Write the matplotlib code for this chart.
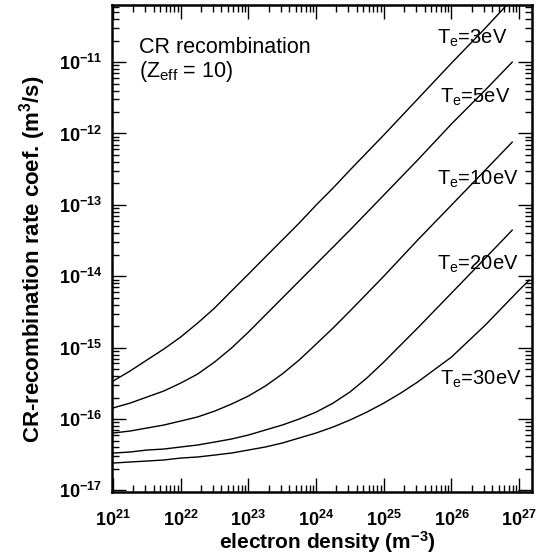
import numpy as np
import matplotlib
matplotlib.use("Agg")
import matplotlib.pyplot as plt
from matplotlib.ticker import LogLocator, FuncFormatter, NullFormatter

plt.rcParams['font.family'] = ['Liberation Sans', 'DejaVu Sans']
plt.rcParams['mathtext.fontset'] = 'custom'
plt.rcParams['mathtext.rm'] = 'Liberation Sans'
plt.rcParams['mathtext.it'] = 'Liberation Sans:italic'
plt.rcParams['mathtext.bf'] = 'Liberation Sans:bold'

# electron density (m^-3)
ne_low = [1e21, 1.78e21, 3.16e21, 5.62e21, 1e22, 1.78e22, 3.16e22, 5.62e22,
          1e23, 1.78e23, 3.16e23, 5.62e23, 1e24, 1.78e24, 3.16e24]
ne = ne_low + [1e25, 3.16e25, 1e26, 3.16e26, 7.9e26]
ne_20 = ne_low + [5.62e24, 1e25, 1.78e25, 3.16e25, 1e26, 3.16e26, 7.9e26]
ne_30 = ne_low + [5.62e24, 1e25, 1.78e25, 3.16e25, 1e26, 3.16e26, 1e27, 1.41e27]

# CR recombination rate coefficient (m^3/s)
rate_3eV = [3.40e-16, 4.70e-16, 6.70e-16, 9.55e-16, 1.41e-15, 2.21e-15, 3.58e-15,
            6.21e-15, 1.07e-14, 1.86e-14, 3.21e-14, 5.55e-14, 9.93e-14, 1.72e-13,
            3.07e-13, 9.51e-13, 3.03e-12, 9.68e-12, 2.99e-11, 7.62e-11]
rate_5eV = [1.43e-16, 1.67e-16, 2.03e-16, 2.47e-16, 3.19e-16, 4.27e-16, 6.28e-16,
            9.86e-16, 1.65e-15, 2.86e-15, 4.94e-15, 8.55e-15, 1.48e-14, 2.56e-14,
            4.43e-14, 1.37e-13, 4.24e-13, 1.36e-12, 4.06e-12, 1.0e-11]
rate_10eV = [6.37e-17, 6.79e-17, 7.48e-17, 8.24e-17, 9.38e-17, 1.07e-16, 1.29e-16,
             1.62e-16, 2.10e-16, 2.90e-16, 4.27e-16, 6.70e-16, 1.12e-15, 1.88e-15,
             3.25e-15, 1.00e-14, 3.21e-14, 9.93e-14, 3.07e-13, 7.57e-13]
rate_20eV = [3.34e-17, 3.45e-17, 3.68e-17, 3.80e-17, 4.06e-17, 4.33e-17, 4.76e-17,
             5.25e-17, 5.97e-17, 7.02e-17, 8.24e-17, 1.00e-16, 1.25e-16, 1.67e-16,
             2.39e-16, 3.75e-16, 6.28e-16, 1.09e-15, 1.88e-15, 5.81e-15, 1.79e-14,
             4.43e-14]
rate_30eV = [2.42e-17, 2.50e-17, 2.58e-17, 2.67e-17, 2.84e-17, 2.94e-17, 3.13e-17,
             3.34e-17, 3.68e-17, 4.06e-17, 4.61e-17, 5.42e-17, 6.37e-17, 7.73e-17,
             9.68e-17, 1.25e-16, 1.67e-16, 2.31e-16, 3.30e-16, 7.38e-16, 2.07e-15,
             6.40e-15, 8.83e-15]

labels = ["3eV", "5eV", "10eV", "20eV", "30eV"]
label_pos = [(0.774, 0.920), (0.781, 0.799), (0.774, 0.630), (0.774, 0.456), (0.781, 0.220)]

fig = plt.figure(figsize=(5.42, 5.60), dpi=100)
ax = fig.add_axes([112 / 542, 1 - 492 / 560, 420 / 542, 487 / 560])

for x, y in [(ne, rate_3eV), (ne, rate_5eV), (ne, rate_10eV), (ne_20, rate_20eV), (ne_30, rate_30eV)]:
    ax.plot(x, y, color="black", lw=1.0)

ax.set_xscale("log")
ax.set_yscale("log")
ax.set_xlim(10 ** 20.985, 10 ** 27.19)
ax.set_ylim(10 ** -17.022, 10 ** -10.2)

def fmt(v, pos):
    e = int(round(np.log10(v)))
    return r"$\mathbf{10^{%d}}$" % e

for axis in (ax.xaxis, ax.yaxis):
    axis.set_major_locator(LogLocator(base=10, numticks=20))
    axis.set_minor_locator(LogLocator(base=10, subs=np.arange(2, 10), numticks=20))
    axis.set_major_formatter(FuncFormatter(fmt))
    axis.set_minor_formatter(NullFormatter())

ax.tick_params(which="both", direction="in", top=True, right=True, width=1.0)
ax.tick_params(which="major", length=10, labelsize=13)
ax.tick_params(which="minor", length=5)
ax.tick_params(axis="x", which="major", pad=13)
ax.tick_params(axis="y", which="major", pad=7)
for s in ax.spines.values():
    s.set_linewidth(1.8)

ax.set_xlabel(r"electron density (m$^{\mathbf{-3}}$)", fontsize=15, fontweight="bold")
ax.set_ylabel(r"CR-recombination rate coef. (m$^{\mathbf{3}}$/s)", fontsize=16, fontweight="bold")
ax.yaxis.set_label_coords(-0.152, 0.478)
ax.xaxis.set_label_coords(0.513, -0.076)

ax.text(0.064, 0.901, "CR recombination", transform=ax.transAxes, fontsize=15.5, va="baseline")
ax.text(0.064, 0.852, r"(Z$_\mathrm{eff}$ = 10)", transform=ax.transAxes, fontsize=15.5, va="baseline")

for lab, (px, py) in zip(labels, label_pos):
    ax.text(px, py, r"T$_\mathrm{e}$=" + lab, transform=ax.transAxes, fontsize=14.5, va="baseline")

fig.savefig("out.png", dpi=100)
